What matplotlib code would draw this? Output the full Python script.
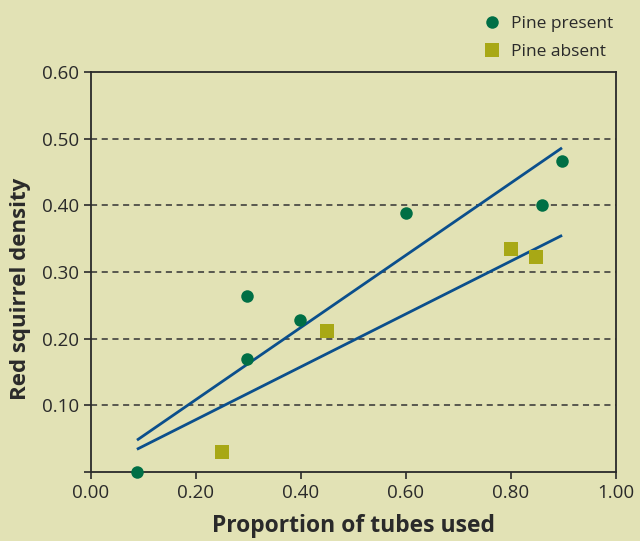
import matplotlib.pyplot as plt

# pine present (circles)
present_x = [0.088, 0.297, 0.297, 0.398, 0.60, 0.859, 0.897]
present_y = [0.00, 0.264, 0.169, 0.228, 0.388, 0.40, 0.467]
# pine absent (squares)
absent_x = [0.25, 0.45, 0.80, 0.848]
absent_y = [0.030, 0.212, 0.335, 0.322]
# fitted lines (end points)
fit_x = [0.09, 0.895]
present_fit = [0.049, 0.485]
absent_fit = [0.035, 0.354]

xticks = [0.0, 0.2, 0.4, 0.6, 0.8, 1.0]
yticks = [0.0, 0.1, 0.2, 0.3, 0.4, 0.5, 0.6]

bg = '#e2e2b5'
txt = '#2a2a2a'
plt.rcParams['font.family'] = ['Open Sans', 'DejaVu Sans']

fig = plt.figure(figsize=(6.4, 5.41), dpi=100, facecolor=bg)
ax = fig.add_axes([0.142, 0.1275, 0.8205, 0.7395], facecolor=bg)

for y in yticks[1:-1]:
    ax.axhline(y, color='#333333', lw=1.1, ls=(0, (4, 3)), zorder=1)

ax.plot(fit_x, present_fit, color='#0b4f8c', lw=2.0, zorder=2)
ax.plot(fit_x, absent_fit, color='#0b4f8c', lw=2.0, zorder=2)
ax.plot(present_x, present_y, 'o', color='#006f45', ms=9, mew=0, zorder=3,
        clip_on=False, label='Pine present')
ax.plot(absent_x, absent_y, 's', color='#a8a815', ms=9.5, mew=0, zorder=3,
        clip_on=False, label='Pine absent')

ax.set_xlim(0, 1.0)
ax.set_ylim(0, 0.6)
ax.set_xticks(xticks)
ax.set_xticklabels(['%.2f' % v for v in xticks])
ax.set_yticks(yticks)
ax.set_yticklabels([''] + ['%.2f' % v for v in yticks[1:]])
ax.tick_params(colors=txt, labelsize=13.5, length=5, width=1.2)
for s in ax.spines.values():
    s.set_color(txt)
    s.set_linewidth(1.3)

ax.set_xlabel('Proportion of tubes used', fontsize=16.5, fontweight='bold',
              color=txt, labelpad=9)
ax.set_ylabel('Red squirrel density', fontsize=16, fontweight='bold',
              color=txt)
ax.yaxis.set_label_coords(-0.114, 0.457)

leg = fig.legend(loc='upper left', bbox_to_anchor=(0.728, 1.0), frameon=False,
                 fontsize=12.5, handletextpad=0.5, labelspacing=0.7,
                 handlelength=1.2)
for t in leg.get_texts():
    t.set_color(txt)

fig.savefig('out.png', dpi=100, facecolor=bg)
